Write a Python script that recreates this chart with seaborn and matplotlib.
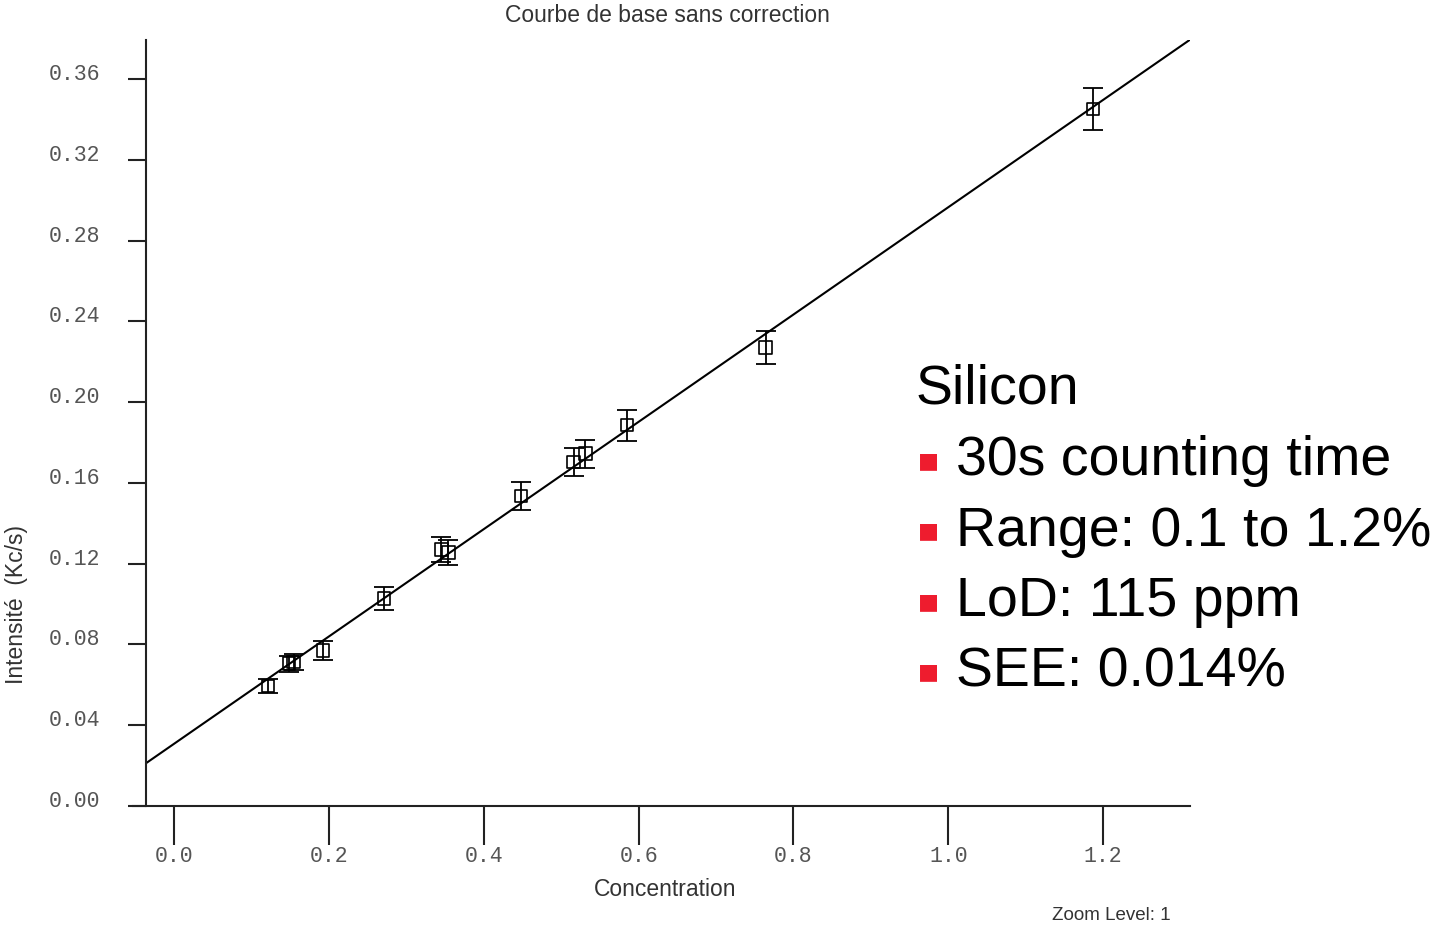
import numpy as np
import pandas as pd
import seaborn as sns
import matplotlib.pyplot as plt
from matplotlib.transforms import ScaledTranslation

# points de la courbe d'etalonnage
concentration = [0.121, 0.148, 0.154, 0.192, 0.271, 0.345, 0.354, 0.448, 0.516, 0.531, 0.585, 0.764, 1.187]
intensite = [0.0594, 0.0705, 0.0713, 0.0771, 0.1027, 0.1270, 0.1255, 0.1534, 0.1704, 0.1745, 0.1886, 0.2271, 0.3450]
erreur = [0.0036, 0.0040, 0.0040, 0.0048, 0.0057, 0.0064, 0.0064, 0.0069, 0.0069, 0.0069, 0.0077, 0.0080, 0.0103]

# droite de regression
pente = 0.2656
ordonnee = 0.0309

x_ticks = [0.0, 0.2, 0.4, 0.6, 0.8, 1.0, 1.2]
y_ticks = [0.00, 0.04, 0.08, 0.12, 0.16, 0.20, 0.24, 0.28, 0.32, 0.36]

puces = ["30s counting time", "Range: 0.1 to 1.2%", "LoD: 115 ppm", "SEE: 0.014%"]

df = pd.DataFrame({"conc": concentration, "int": intensite, "err": erreur})

sns.set_style("ticks")
plt.rcParams['font.family'] = ['Liberation Sans', 'DejaVu Sans']

fig = plt.figure(figsize=(14.41, 9.26), dpi=100)
ax = fig.add_axes([133 / 1441, 1 - 806 / 926, (1190 - 133) / 1441, (806 - 40) / 926])

x_gauche = -0.0366
x_droite = 1.3123

# droite tracee a partir de l'axe des y
xs = np.array([x_gauche, x_droite])
sns.lineplot(x=xs, y=ordonnee + pente * xs, color='black', lw=1.5, ax=ax, zorder=2)
ax.errorbar(df['conc'], df['int'], yerr=df['err'], fmt='none', ecolor='black',
            elinewidth=1.3, capsize=7.5, capthick=1.3, zorder=3)
sns.scatterplot(data=df, x='conc', y='int', marker='s', s=80, facecolor='none',
                edgecolor='black', linewidth=1.2, ax=ax, zorder=4)

ax.set_xlim(-0.0534, x_droite)
ax.set_ylim(0, 0.3793)
ax.set_xticks(x_ticks)
ax.set_yticks(y_ticks)
ax.set_xticklabels([f"{v:.1f}" for v in x_ticks])
ax.set_yticklabels([f"{v:.2f}" for v in y_ticks])
ax.spines['left'].set_position(('data', x_gauche))
ax.spines['top'].set_visible(False)
ax.spines['right'].set_visible(False)
for s in ['left', 'bottom']:
    ax.spines[s].set_linewidth(1.5)
    ax.spines[s].set_color('#222222')
ax.tick_params(axis='x', length=28, width=1.5, color='#222222', pad=1)
ax.tick_params(axis='y', length=13, width=1.5, color='#222222', pad=20)
for lab in ax.get_xticklabels() + ax.get_yticklabels():
    lab.set_family('Liberation Mono')
    lab.set_fontsize(15.5)
    lab.set_color('#555555')
# les etiquettes de l'axe y sont un peu au-dessus des graduations
for lab in ax.get_yticklabels():
    lab.set_transform(lab.get_transform() + ScaledTranslation(0, 0.07, fig.dpi_scale_trans))
ax.set_xlabel('')
ax.set_ylabel('')

fig.text(667 / 1441, 1 - 16 / 926, "Courbe de base sans correction", ha='center', va='center',
         fontsize=16.5, color='#333333')
fig.text(665 / 1441, 1 - 890 / 926, "Concentration", ha='center', va='center',
         fontsize=16.5, color='#333333')
fig.text(17 / 1441, 1 - 605 / 926, "Intensité  (Kc/s)", ha='center', va='center',
         rotation=90, fontsize=16.5, color='#333333')
fig.text(1171 / 1441, 1 - 916 / 926, "Zoom Level: 1", ha='right', va='center',
         fontsize=13.5, color='#333333')

# encadre de texte a droite
fig.text(916 / 1441, 1 - 390 / 926, "Silicon", ha='left', va='center', fontsize=40, color='black')
for i, t in enumerate(puces):
    y = 1 - (461 + i * 70.5) / 926
    fig.text(918 / 1441, y, "■", ha='left', va='center', fontsize=16, color='#EE1C2E',
             family='DejaVu Sans')
    fig.text(956 / 1441, y, t, ha='left', va='center', fontsize=40, color='black')

fig.savefig('out.png', dpi=100)
